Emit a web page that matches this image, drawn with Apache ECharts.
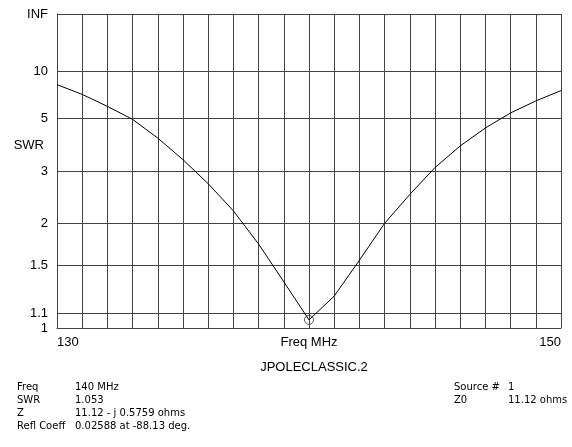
<!DOCTYPE html>
<html>
<head>
<meta charset="utf-8">
<script src="https://cdn.jsdelivr.net/npm/echarts@6/dist/echarts.min.js"></script>
<style>
  html, body { margin: 0; padding: 0; background: #fff; }
  #chart { width: 572px; height: 447px; }
</style>
</head>
<body>
<div id="chart"></div>
<script>
// Frequencies (MHz)
const freqs = [130, 131, 132, 133, 134, 135, 136, 137, 138, 139, 140, 141, 142, 143, 144, 145, 146, 147, 148, 149, 150];
// SWR
const swr = [7.89, 6.81, 5.80, 4.96, 4.06, 3.31, 2.70, 2.19, 1.73, 1.345, 1.053, 1.226, 1.55, 2.0, 2.48, 3.09, 3.76, 4.51, 5.35, 6.22, 7.20];
// Marked point
const markFreq = 140;
const markSwr = 1.053;
// Y tick values (SWR) and labels
const swrTicks = [1, 1.1, 1.5, 2, 3, 5, 10, Infinity];
const swrTickLabels = ['1', '1.1', '1.5', '2', '3', '5', '10', 'INF'];
// X labels shown
const xLabelValues = [130, 150];
const xName = 'Freq MHz';
const yName = 'SWR';
// Info block
const infoLeftKeys = ['Freq', 'SWR', 'Z', 'Refl Coeff'];
const infoLeftVals = ['140 MHz', '1.053', '11.12 - j 0.5759 ohms', '0.02588 at -88.13 deg.'];
const infoRightKeys = ['Source #', 'Z0'];
const infoRightVals = ['1', '11.12 ohms'];
const titleText = 'JPOLECLASSIC.2';

// SWR -> reflection coefficient magnitude (the axis scale of the plot)
function rho(s) { return s === Infinity ? 1 : (s - 1) / (s + 1); }
const tickRho = swrTicks.map(rho);
function labelFor(v) {
  for (let i = 0; i < tickRho.length; i++) if (Math.abs(tickRho[i] - v) < 1e-6) return swrTickLabels[i];
  return '';
}

const gridColor = '#444';
const font = '"Liberation Sans", Arial, sans-serif';
const infoFont = '"DejaVu Sans", Tahoma, sans-serif';

const graphics = [];
const rowTop = 382, rowStep = 13;
infoLeftKeys.forEach((k, i) => {
  graphics.push({ type: 'text', left: 17, top: rowTop + i * rowStep, style: { text: k, font: '10px ' + infoFont, fill: '#000' } });
  graphics.push({ type: 'text', left: 75, top: rowTop + i * rowStep, style: { text: infoLeftVals[i], font: '10px ' + infoFont, fill: '#000' } });
});
infoRightKeys.forEach((k, i) => {
  graphics.push({ type: 'text', left: 454, top: rowTop + i * rowStep, style: { text: k, font: '10px ' + infoFont, fill: '#000' } });
  graphics.push({ type: 'text', left: 508, top: rowTop + i * rowStep, style: { text: infoRightVals[i], font: '10px ' + infoFont, fill: '#000' } });
});
// y-axis title
graphics.push({ type: 'text', right: 572 - 44, top: 139, style: { text: yName, font: '13px ' + font, fill: '#000' } });

const chart = echarts.init(document.getElementById('chart'), null, { renderer: 'canvas' });
chart.setOption({
  animation: false,
  backgroundColor: '#fff',
  title: {
    text: titleText,
    left: 309,
    top: 356,
    textAlign: 'center',
    textStyle: { fontFamily: font, fontSize: 13, fontWeight: 'normal', color: '#000' }
  },
  grid: { left: 57, right: 11, top: 14, bottom: 119, containLabel: false, outerBoundsMode: 'none' },
  xAxis: {
    type: 'value',
    min: 130, max: 150, interval: 1,
    name: xName,
    nameLocation: 'middle',
    nameGap: 8,
    nameMoveOverlap: false,
    nameTextStyle: { fontFamily: font, fontSize: 13, color: '#000', verticalAlign: 'top' },
    axisLine: { show: true, lineStyle: { color: gridColor, width: 1 } },
    axisTick: { show: false },
    axisLabel: {
      customValues: xLabelValues,
      fontFamily: font, fontSize: 13, color: '#000', margin: 8,
      alignMinLabel: 'left', alignMaxLabel: 'right'
    },
    splitLine: { show: true, lineStyle: { color: gridColor, width: 1 } }
  },
  yAxis: {
    type: 'value',
    min: 0, max: 1,
    axisLine: { show: true, lineStyle: { color: gridColor, width: 1 } },
    axisTick: { show: false, customValues: tickRho },
    axisLabel: {
      customValues: tickRho,
      formatter: v => labelFor(v),
      fontFamily: font, fontSize: 13, color: '#000', margin: 9
    },
    splitLine: { show: true, lineStyle: { color: gridColor, width: 1 } }
  },
  graphic: graphics,
  series: [
    {
      type: 'line',
      data: freqs.map((f, i) => [f, rho(swr[i])]),
      symbol: 'none',
      lineStyle: { color: '#000', width: 1 },
      silent: true
    },
    {
      type: 'scatter',
      data: [[markFreq, rho(markSwr)]],
      symbol: 'circle',
      symbolSize: 9,
      itemStyle: { color: 'rgba(0,0,0,0)', borderColor: '#333', borderWidth: 1 },
      silent: true
    }
  ]
});
</script>
</body>
</html>
